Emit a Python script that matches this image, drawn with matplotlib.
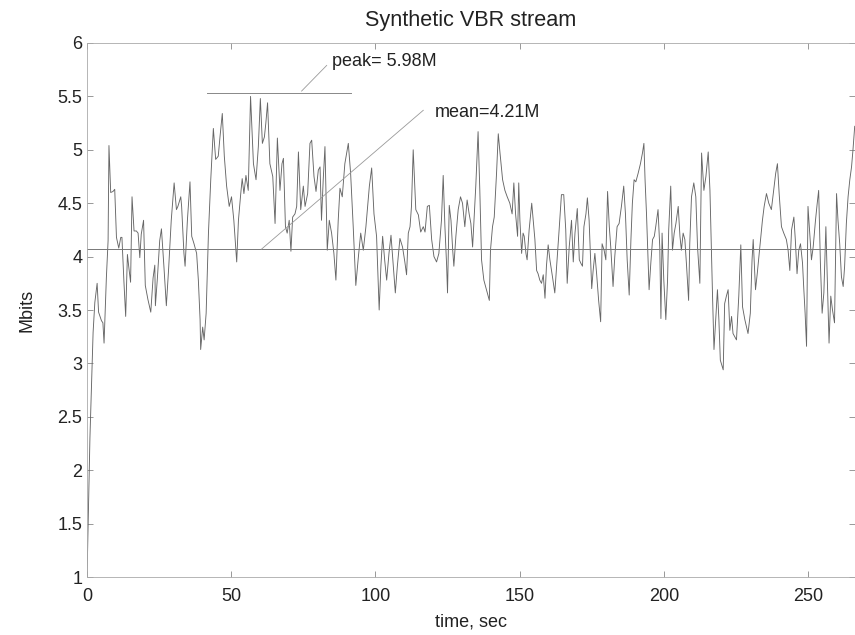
import matplotlib
matplotlib.use("Agg")
import matplotlib.pyplot as plt

# time (sec) and rate (Mbits)
time_sec = [
    0, 1.0, 2.1, 2.7, 3.5, 4.0, 5.0, 5.5, 5.9, 6.7, 7.3, 7.6, 8.2, 9.0, 9.6, 10.2, 11.0, 11.7, 12.1, 12.8,
    13.4, 14.0, 14.4, 15.1, 15.6, 16.3, 17.1, 17.7, 18.3, 18.8, 19.6, 20.2, 21.1, 22.1, 22.9, 23.5, 23.7,
    24.4, 25.2, 25.8, 26.7, 27.5, 28.3, 29.2, 30.2, 31.0, 31.5, 32.5,
    32.8, 33.6, 34.0, 34.8, 35.7, 36.3, 37.1, 38.0, 38.6, 39.2, 39.4, 40.1, 40.6, 41.3, 42.1, 42.9, 43.8,
    44.6, 45.5, 46.1, 46.9, 47.6, 48.4, 49.3, 50.1, 50.9, 51.9, 52.5, 53.3, 53.8, 54.4, 55.1, 55.9, 56.7,
    57.7, 58.6, 59.4, 60.1, 60.8, 61.5, 62.0, 62.6, 63.4, 64.4, 65.2, 66.0, 66.9, 67.6, 68.1, 68.8, 69.4,
    70.1, 70.7, 71.3, 72.1, 72.7, 73.3, 74.1, 75.0, 75.6, 76.5, 77.3,
    77.9, 78.7, 79.4, 80.2, 80.8, 81.3, 81.9, 82.5, 83.3, 84.0, 84.8, 85.6, 86.3, 87.1, 87.7, 88.5, 89.4,
    90.6, 91.4, 92.3, 93.2, 94.1, 94.9, 95.8, 96.7, 97.9, 98.7, 99.5, 100.4, 101.3, 101.9, 102.5, 103.2,
    103.9, 104.7, 105.4, 106.2, 106.9, 107.6, 108.5, 109.4, 110.2, 110.8, 111.4, 112.0, 112.5, 113.1, 114.0,
    114.9, 115.7, 116.6, 117.2, 118.0, 118.7, 119.5, 120.3, 121.2, 122.0,
    122.9, 123.5, 124.1, 124.7, 125.0, 125.6, 126.2, 126.8, 127.2, 127.9, 128.7, 129.5, 130.2, 131.0, 131.8,
    132.5, 133.1, 133.7, 134.3, 134.8, 135.6, 136.2, 136.8, 137.6, 138.5, 139.5, 139.9, 140.6, 141.2, 142.0,
    142.6, 143.2, 144.1, 144.9, 145.7, 146.6, 147.4, 148.0, 148.6, 149.3, 149.7, 150.1, 150.7, 151.2, 151.6,
    152.2, 152.6, 153.3, 154.2, 154.7, 155.3, 155.9, 156.4, 157.0, 157.6, 158.2, 158.8, 159.3, 159.9, 160.5,
    161.4, 162.2, 163.0, 163.7, 164.5, 165.3, 166.0, 166.5, 167.2,
    168.0, 168.6, 169.2, 170.0, 170.7, 171.2, 171.8, 172.3, 173.0, 173.5, 174.1, 174.6, 175.0, 175.5, 176.1,
    176.7, 177.4, 178.1, 178.6, 179.3, 179.9, 180.5, 181.1, 181.6, 182.4, 183.0, 183.8, 184.5, 185.3, 186.1,
    186.7, 187.3, 188.0, 188.6, 189.1, 189.7, 190.3, 191.1, 191.9, 192.6, 193.1, 193.5, 194.0, 194.5, 194.9,
    195.5, 196.1, 196.7, 197.2, 198.0, 198.6, 199.0, 199.4, 200.0, 200.7, 201.3, 201.7, 202.4, 203.0, 203.6,
    204.2, 205.0, 205.6, 206.1, 206.7, 207.3, 207.9, 208.6, 209.0, 209.6, 210.4, 211.1, 211.7, 212.5,
    213.1, 213.9, 214.6, 215.4, 216.0, 216.5, 216.9, 217.4, 218.0, 218.6, 219.1, 219.6, 220.6, 221.1, 221.7,
    222.3, 222.9, 223.5, 224.0, 225.2, 226.0, 226.7, 227.3, 228.1, 229.2, 230.0, 230.6, 231.0, 231.8, 232.4,
    233.3, 234.2, 234.8, 235.6, 236.4, 237.3, 238.1, 238.8, 239.4, 240.0, 240.8, 241.6, 242.5, 243.1, 243.7,
    244.3, 245.1, 245.6, 246.2, 246.8, 247.4, 248.1, 248.5, 249.0, 249.5, 250.0, 250.6, 251.2, 251.8, 252.6,
    253.2, 253.7, 254.3, 254.9, 255.5, 256.2, 256.7, 257.3, 257.9, 258.5, 259.2, 259.9, 260.4, 261.0, 261.6,
    262.2, 262.7, 263.3, 263.9, 264.5, 265.1, 265.6, 266.2,
]
mbits = [
    1.00, 2.30, 3.29, 3.57, 3.75, 3.48, 3.40, 3.38, 3.19, 3.80, 4.15, 5.04, 4.60, 4.61, 4.63, 4.18, 4.08, 4.18, 4.18, 3.76,
    3.44, 4.02, 3.92, 3.76, 4.56, 4.24, 4.24, 4.22, 3.99, 4.21, 4.34, 3.73, 3.60, 3.48, 3.80, 3.92, 3.54,
    3.80, 4.15, 4.26, 3.89, 3.54, 3.89, 4.34, 4.69, 4.44, 4.47, 4.56,
    4.47, 4.03, 3.91, 4.34, 4.70, 4.19, 4.12, 4.03, 3.78, 3.41, 3.13, 3.34, 3.22, 3.47, 4.22, 4.72, 5.20,
    4.91, 4.94, 5.12, 5.34, 4.94, 4.66, 4.47, 4.56, 4.34, 3.95, 4.34, 4.59, 4.73, 4.59, 4.76, 4.62, 5.50,
    4.87, 4.72, 5.03, 5.48, 5.06, 5.12, 5.25, 5.44, 4.87, 4.75, 4.31, 5.11, 4.62, 4.87, 4.92, 4.28, 4.22,
    4.34, 4.05, 4.37, 4.40, 4.47, 4.98, 4.44, 4.66, 4.47, 4.59, 5.06,
    5.09, 4.75, 4.61, 4.81, 4.84, 4.34, 4.72, 5.03, 4.06, 4.34, 4.22, 4.03, 3.78, 4.34, 4.64, 4.56, 4.87,
    5.06, 4.78, 4.28, 3.73, 4.00, 4.22, 4.06, 4.28, 4.66, 4.83, 4.40, 4.19, 3.50, 3.91, 4.19, 3.97,
    3.78, 4.03, 4.20, 3.91, 3.66, 3.91, 4.17, 4.09, 3.95, 3.83, 4.22, 4.28, 4.47, 5.00, 4.44,
    4.39, 4.23, 4.28, 4.23, 4.47, 4.48, 4.16, 4.00, 3.95, 4.03,
    4.34, 4.76, 4.28, 3.91, 3.66, 4.48, 4.34, 4.06, 3.91, 4.19, 4.44, 4.56, 4.50, 4.28, 4.53,
    4.40, 4.31, 4.09, 4.40, 4.66, 5.17, 4.62, 3.97, 3.78, 3.69, 3.59, 4.06, 4.28, 4.37, 4.78,
    5.15, 4.97, 4.72, 4.62, 4.56, 4.50, 4.40, 4.69, 4.40, 4.19, 4.69, 4.34, 4.03, 4.22, 4.19,
    4.03, 3.97, 4.25, 4.50, 4.34, 4.16, 3.87, 3.84, 3.78, 3.75, 3.83, 3.61, 3.91, 4.11, 3.97,
    3.81, 3.66, 3.97, 4.25, 4.58, 4.58, 4.25, 3.75, 4.09,
    4.34, 3.95, 4.22, 4.45, 3.97, 3.94, 3.91, 4.28, 4.40, 4.55, 4.34, 3.97, 3.70, 3.87, 4.03,
    3.84, 3.59, 3.39, 4.12, 4.06, 3.97, 4.61, 4.28, 4.09, 3.72, 4.00, 4.28, 4.31, 4.47, 4.66,
    4.40, 3.97, 3.64, 4.16, 4.50, 4.72, 4.70, 4.78, 4.87, 4.97, 5.06, 4.72, 4.40, 4.00, 3.69,
    3.94, 4.16, 4.19, 4.28, 4.44, 4.09, 3.42, 4.22, 3.78, 3.41, 3.78, 4.25, 4.66, 4.06, 4.22,
    4.31, 4.47, 4.19, 4.06, 4.22, 4.16, 3.91, 3.59, 4.12, 4.56, 4.69, 4.56, 4.09, 3.75,
    4.97, 4.62, 4.75, 4.98, 4.62, 4.06, 3.63, 3.13, 3.41, 3.69, 3.41, 3.03, 2.94, 3.56, 3.63,
    3.69, 3.31, 3.44, 3.28, 3.22, 3.63, 4.11, 3.53, 3.41, 3.28, 3.47, 3.97, 4.16, 3.69, 3.84,
    4.09, 4.34, 4.47, 4.59, 4.50, 4.44, 4.62, 4.78, 4.87, 4.59, 4.28, 4.22, 4.16, 4.06, 3.87,
    4.25, 4.37, 4.16, 3.84, 4.06, 4.12, 3.94, 3.72, 3.47, 3.16, 4.47, 4.22, 3.97, 4.09, 4.34,
    4.50, 4.62, 3.94, 3.47, 3.66, 4.28, 3.78, 3.19, 3.63, 3.50, 3.38, 4.59, 4.34, 4.12, 3.81,
    3.72, 3.91, 4.31, 4.56, 4.72, 4.84, 5.00, 5.22,
]

mean_level = 4.07
peak_level = 5.535
peak_span = [41.5, 91.7]
peak_text = "peak= 5.98M"
mean_text = "mean=4.21M"

plt.rcParams['font.family'] = ['Liberation Sans', 'DejaVu Sans']
plt.rcParams['font.size'] = 13

fig = plt.figure(figsize=(8.55, 6.35), dpi=100)
ax = fig.add_axes([0.1018, 0.0913, 0.8982, 0.8410])

ax.plot(time_sec, mbits, color='#666666', lw=0.65)

# mean and peak markers with their pointer lines
ax.axhline(mean_level, color='#777777', lw=0.7)
ax.plot(peak_span, [peak_level, peak_level], color='#888888', lw=0.7)
ax.plot([74.4, 83.1], [5.55, 5.79], color='#999999', lw=0.6)
ax.plot([60.5, 116.6], [mean_level, 5.37], color='#999999', lw=0.6)
ax.text(84.8, 5.83, peak_text, va='center', ha='left', color='#222222')
ax.text(120.6, 5.35, mean_text, va='center', ha='left', color='#222222')

ax.set_xlim(0, 266.3)
ax.set_ylim(1, 6)
ax.set_xticks([0, 50, 100, 150, 200, 250])
ax.set_yticks([1, 1.5, 2, 2.5, 3, 3.5, 4, 4.5, 5, 5.5, 6])
ax.set_yticklabels(['1', '1.5', '2', '2.5', '3', '3.5', '4', '4.5', '5', '5.5', '6'])
ax.tick_params(direction='in', top=True, right=True, length=4, width=0.6, color='#888888', labelcolor='#222222')
ax.tick_params(axis='x', pad=8)
for s in ax.spines.values():
    s.set_color('#aaaaaa')
    s.set_linewidth(0.6)

ax.set_title('Synthetic VBR stream', color='#222222', pad=12)
ax.set_xlabel('time, sec', color='#222222', labelpad=6)
ax.set_ylabel('Mbits', color='#222222', labelpad=16)

fig.savefig('out.png', dpi=100)
